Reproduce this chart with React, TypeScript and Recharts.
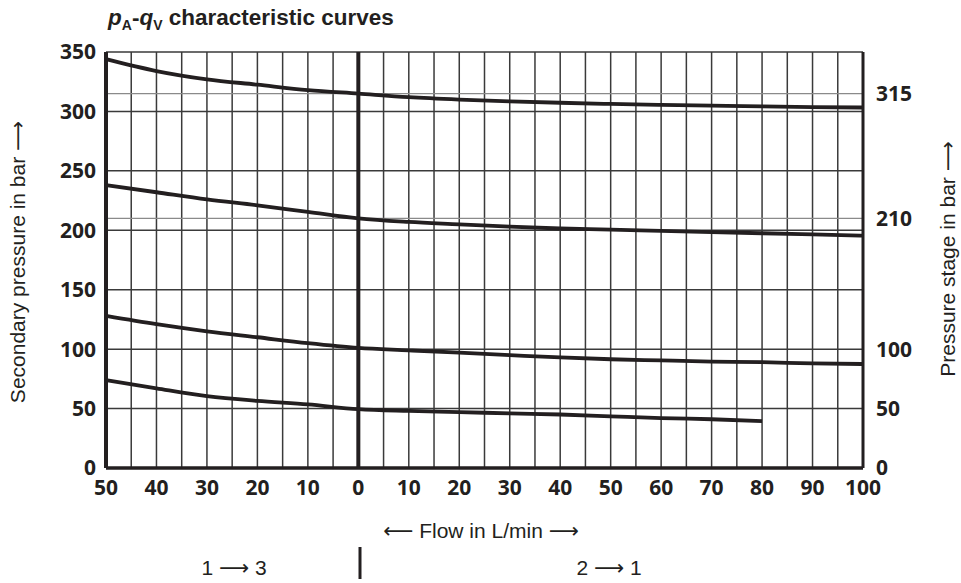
import { LineChart, Line, XAxis, YAxis, CartesianGrid, ReferenceLine } from 'recharts'

const flow = [-50, -40, -30, -20, -10, 0, 10, 20, 30, 40, 50, 60, 70, 80, 90, 100]
const stage315 = [344, 334, 327, 322.5, 318, 315, 312, 310, 308.5, 307.3, 306.3, 305.5, 304.8, 304.2, 303.7, 303.3]
const stage210 = [238, 232, 226, 221, 215.5, 210, 207, 205, 203, 201.5, 200.5, 199.5, 198.5, 197.5, 196.5, 195.5]
const stage100 = [128, 121, 115, 110, 105, 101, 99, 97, 95, 93, 91.5, 90.5, 89.5, 89, 88, 87.5]
const stage50 = [74, 67, 60.5, 56.5, 53.5, 49.5, 48, 47, 46, 45, 43.5, 42, 41, 39.5, null, null]

const flowTicks = [-50, -40, -30, -20, -10, 0, 10, 20, 30, 40, 50, 60, 70, 80, 90, 100]
const flowGrid = [-45, -40, -35, -30, -25, -20, -15, -10, -5, 5, 10, 15, 20, 25, 30, 35, 40, 45, 50, 55, 60, 65, 70, 75, 80, 85, 90, 95]
const pressureTicks = [0, 50, 100, 150, 200, 250, 300, 350]
const stageTicks = [0, 50, 100, 210, 315]
const stageLines = [315, 210]

const data = flow.map((f, i) => ({
  flow: f,
  s315: stage315[i],
  s210: stage210[i],
  s100: stage100[i],
  s50: stage50[i],
}))

const ink = '#231f20'
const grid = '#3a3a3a'
const tickFont = { fill: ink, fontSize: 21, fontWeight: 700, fontFamily: '"Open Sans", sans-serif' }
const labelFont = 'Liberation Sans, Arial, sans-serif'
const arrowFont = 'DejaVu Sans, sans-serif'

const Arrow = ({ left }: { left?: boolean }) => (
  <tspan fontFamily={arrowFont}>{left ? '⟵' : '⟶'}</tspan>
)

export default function App() {
  return (
    <div style={{ position: 'absolute', left: 0, top: 0, width: 961, height: 583, background: '#fff' }}>
      <LineChart width={961} height={583} data={data} margin={{ top: 52, right: 0, bottom: 0, left: 0 }}>
        <CartesianGrid stroke={grid} strokeWidth={1.5}
          horizontalValues={pressureTicks} verticalValues={flowGrid} />
        {stageLines.map(v => (
          <ReferenceLine key={v} y={v} stroke="#8a8a8a" strokeWidth={1.2} />
        ))}
        <ReferenceLine x={0} stroke={ink} strokeWidth={4} />
        <XAxis dataKey="flow" type="number" domain={[-50, 100]} ticks={flowTicks} interval={0}
          height={115} tickFormatter={v => String(Math.abs(v))} tick={tickFont}
          tickLine={false} tickSize={0} tickMargin={12}
          axisLine={{ stroke: ink, strokeWidth: 3.5 }} />
        <YAxis domain={[0, 350]} ticks={pressureTicks} width={106} tick={tickFont} interval={0}
          tickLine={false} tickSize={0} tickMargin={10}
          axisLine={{ stroke: ink, strokeWidth: 4 }} />
        <YAxis yAxisId="right" orientation="right" domain={[0, 350]} ticks={stageTicks} interval={0}
          width={98} tick={tickFont} tickLine={false} tickSize={0} tickMargin={13}
          axisLine={{ stroke: ink, strokeWidth: 3 }} />
        {['s315', 's210'].map(k => (
          <Line key={k} dataKey={k} yAxisId="right" type="monotone" stroke={ink} strokeWidth={3.8}
            dot={false} activeDot={false} isAnimationActive={false} />
        ))}
        {['s100', 's50'].map(k => (
          <Line key={k} dataKey={k} type="monotone" stroke={ink} strokeWidth={3.8}
            dot={false} activeDot={false} isAnimationActive={false} />
        ))}
      </LineChart>
      <svg width={961} height={583} style={{ position: 'absolute', left: 0, top: 0, pointerEvents: 'none' }}>
        <text x={108} y={25} fill={ink} fontFamily={labelFont} fontWeight={700} fontSize={22.5}>
          <tspan fontStyle="italic">p</tspan>
          <tspan fontSize={14} dy={5}>A</tspan>
          <tspan dy={-5}>-</tspan>
          <tspan fontStyle="italic">q</tspan>
          <tspan fontSize={14} dy={5}>V</tspan>
          <tspan dy={-5}> characteristic curves</tspan>
        </text>
        <text transform="translate(25,262) rotate(-90)" textAnchor="middle" fill={ink}
          fontFamily={labelFont} fontSize={21}>Secondary pressure in bar <Arrow /></text>
        <text transform="translate(955,259) rotate(-90)" textAnchor="middle" fill={ink}
          fontFamily={labelFont} fontSize={21}>Pressure stage in bar <Arrow /></text>
        <text x={481} y={538} textAnchor="middle" fill={ink} fontFamily={labelFont} fontSize={21}>
          <Arrow left /> Flow in L/min <Arrow />
        </text>
        <text x={234} y={575} textAnchor="middle" fill={ink} fontFamily={labelFont} fontSize={21}>1 <Arrow /> 3</text>
        <text x={609} y={575} textAnchor="middle" fill={ink} fontFamily={labelFont} fontSize={21}>2 <Arrow /> 1</text>
        <line x1={360} x2={360} y1={547} y2={579} stroke={ink} strokeWidth={3} />
      </svg>
    </div>
  )
}
